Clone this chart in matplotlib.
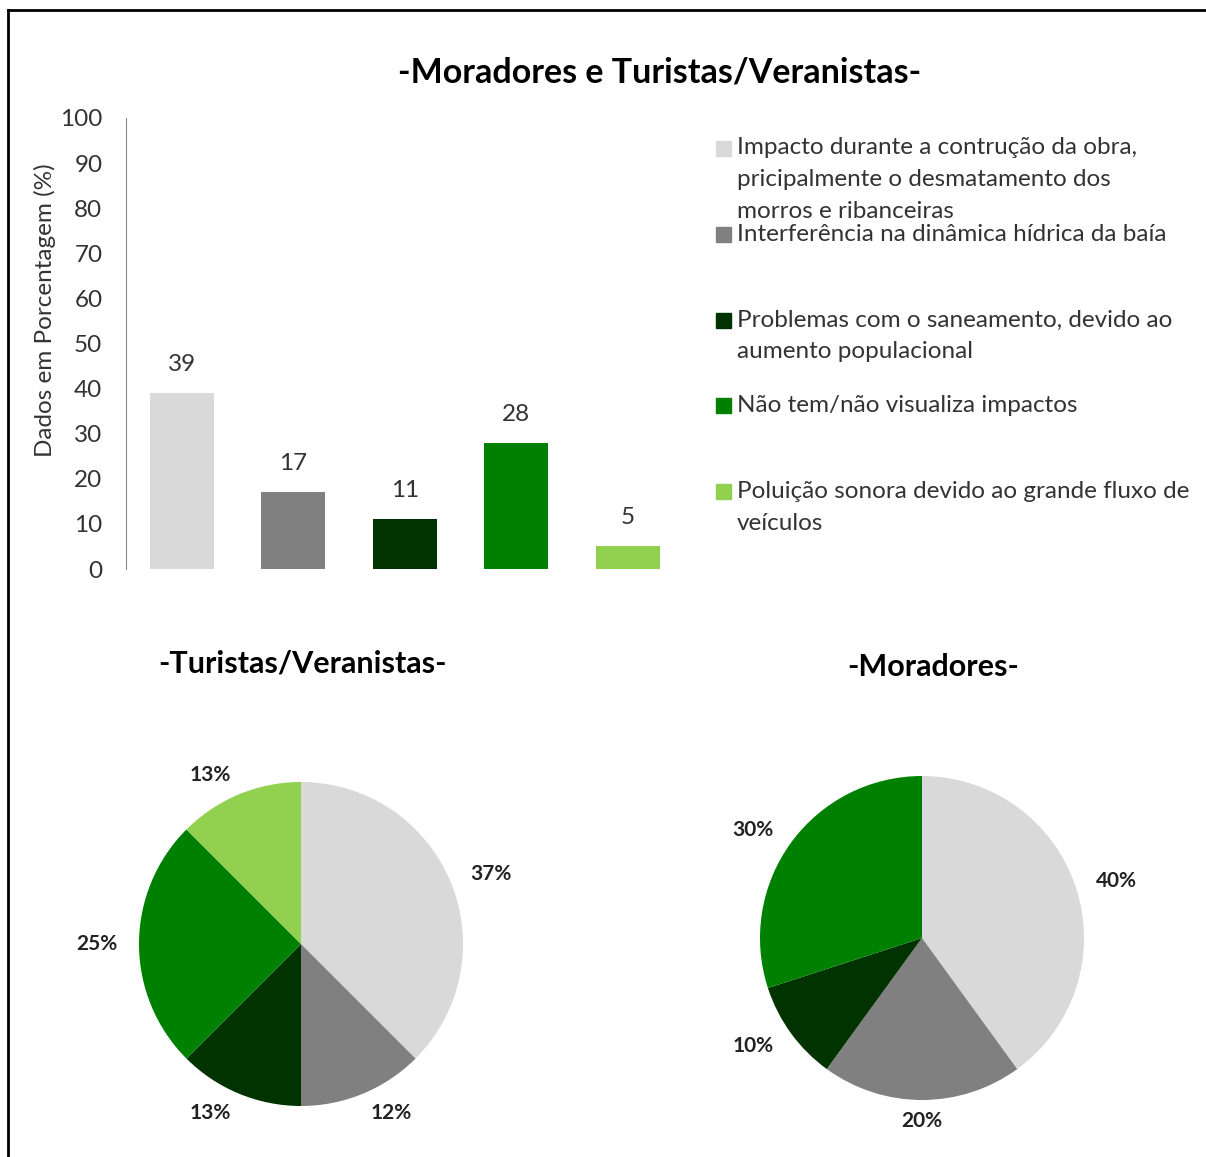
import matplotlib.pyplot as plt
from matplotlib.lines import Line2D
from matplotlib.patches import Rectangle

plt.rcParams['font.family'] = ['Lato', 'DejaVu Sans']

# data
categories = [
    "Impacto durante a contrução da obra,\npricipalmente o desmatamento dos\nmorros e ribanceiras",
    "Interferência na dinâmica hídrica da baía",
    "Problemas com o saneamento, devido ao\naumento populacional",
    "Não tem/não visualiza impactos",
    "Poluição sonora devido ao grande fluxo de\nveículos",
]
total_values = [39, 17, 11, 28, 5]
turistas_values = [37.5, 12.5, 12.5, 25, 12.5]
turistas_labels = ['37%', '12%', '13%', '25%', '13%']
moradores_values = [40, 20, 10, 30, 0]
moradores_labels = ['40%', '20%', '10%', '30%', '0%']
colors = ['#D9D9D9', '#808080', '#003300', '#008000', '#92D050']

W, H = 1206, 1157
fig = plt.figure(figsize=(W / 100, H / 100), dpi=100)
txt = '#333333'
fs = 17.5


def fx(px):
    return px / W


def fy(py):
    return 1 - py / H


# frame (left and top edge visible)
fig.add_artist(Line2D([fx(8), fx(8)], [fy(10), 0], color='black', lw=2))
fig.add_artist(Line2D([fx(8), 1], [fy(10), fy(10)], color='black', lw=2))

# bar chart
ax = fig.add_axes([fx(126), fy(569), fx(683.5) - fx(126), (569 - 118) / H])
x = range(len(total_values))
bars = ax.bar(x, total_values, width=0.57, color=colors)
for b, v in zip(bars, total_values):
    ax.annotate(str(v), (b.get_x() + b.get_width() / 2, v), xytext=(0, 13),
                textcoords='offset points', ha='center', va='bottom',
                fontsize=fs, color=txt)
ax.set_xlim(-0.5, 4.5)
ax.set_ylim(0, 100)
ax.set_yticks(range(0, 101, 10))
ax.set_xticks([])
ax.tick_params(axis='y', length=0, pad=17, labelsize=fs, labelcolor=txt)
for s in ['top', 'right', 'bottom']:
    ax.spines[s].set_visible(False)
ax.spines['left'].set_color('#868686')
ax.set_ylabel('Dados em Porcentagem (%)', fontsize=fs, color=txt)
ax.yaxis.set_label_coords(-0.145, 0.574)
ax.yaxis.label.set_verticalalignment('center')

fig.text(fx(660), fy(73), '-Moradores e Turistas/Veranistas-', ha='center',
         va='center', fontsize=24.5, fontweight='bold', color='black')

# legend
legend_y = [148, 234, 320, 405, 491]
for lab, c, y0 in zip(categories, colors, legend_y):
    fig.add_artist(Rectangle((fx(716), fy(y0 + 8)), fx(15), 15 / H,
                             color=c, transform=fig.transFigure))
    for i, line in enumerate(lab.split('\n')):
        fig.text(fx(737), fy(y0 + i * 32), line, ha='left', va='center',
                 fontsize=fs, color=txt)

# pies
pie_specs = [
    ('-Turistas/Veranistas-', turistas_values, turistas_labels, (301, 944), (303, 663)),
    ('-Moradores-', moradores_values, moradores_labels, (922, 938), (933, 667)),
]
size = 2.6 * 162
for title, vals, labs, (cx, cy), (tx, ty) in pie_specs:
    pax = fig.add_axes([fx(cx - size / 2), fy(cy + size / 2), size / W, size / H])
    keep = [(v, l, c) for v, l, c in zip(vals, labs, colors) if v > 0]
    wedges, texts = pax.pie([k[0] for k in keep], labels=[k[1] for k in keep],
                            colors=[k[2] for k in keep], startangle=90,
                            counterclock=False, labeldistance=1.13,
                            wedgeprops=dict(linewidth=0))
    for t in texts:
        t.set_fontsize(15)
        t.set_fontweight('bold')
        t.set_color('#222222')
        if abs(t.get_position()[0]) < 0.05:
            t.set_horizontalalignment('center')
    pax.set_xlim(-1.3, 1.3)
    pax.set_ylim(-1.3, 1.3)
    pax.set_aspect('equal')
    pax.axis('off')
    fig.text(fx(tx), fy(ty), title, ha='center', va='center', fontsize=22,
             fontweight='bold', color='black')

fig.savefig('out.png', dpi=100)
